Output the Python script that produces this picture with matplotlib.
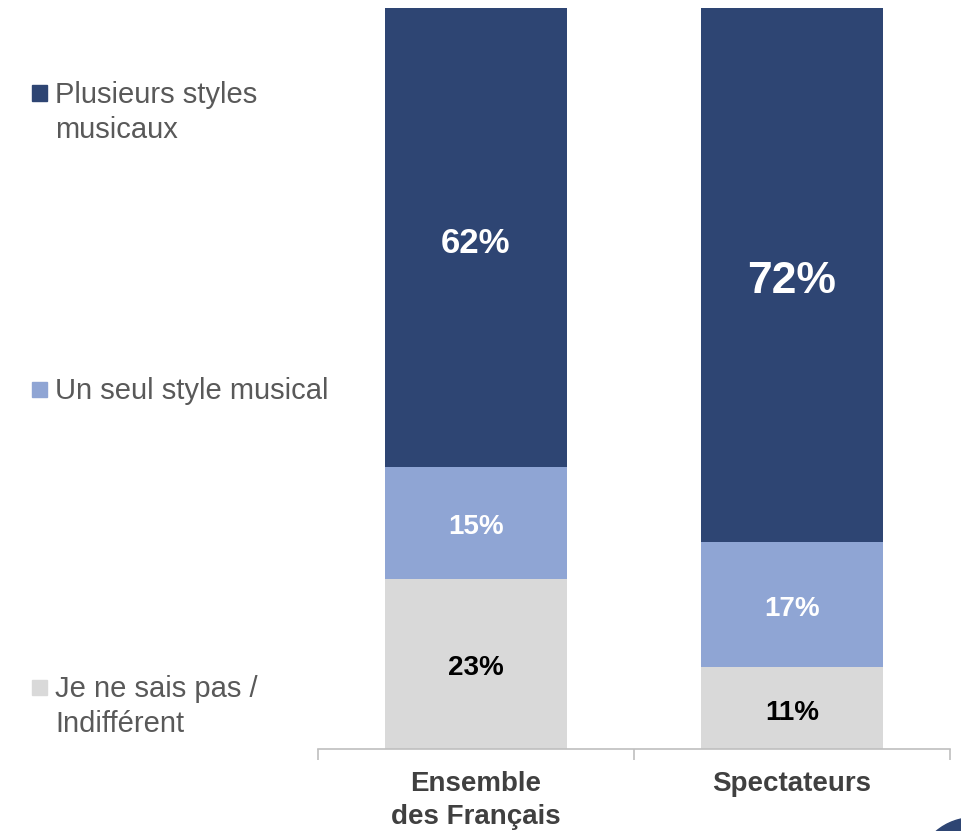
import matplotlib.pyplot as plt
from matplotlib.patches import Rectangle, Circle

plt.rcParams['font.family'] = ['Liberation Sans', 'DejaVu Sans']

# données
categories = ['Ensemble\ndes Français', 'Spectateurs']
series = ['Je ne sais pas /\nIndifférent', 'Un seul style musical',
          'Plusieurs styles\nmusicaux']
values = {
    'Je ne sais pas /\nIndifférent': [23, 11],
    'Un seul style musical': [15, 17],
    'Plusieurs styles\nmusicaux': [62, 72],
}
colors = ['#D9D9D9', '#8FA5D4', '#2E4573']
label_colors = ['black', 'white', 'white']
label_sizes = [[20, 20], [20, 20], [25, 32]]

W, H = 961, 831
fig = plt.figure(figsize=(W / 100, H / 100), dpi=100)
ax = fig.add_axes([318 / W, 82 / H, (950 - 318) / W, (823 - 82) / H])

x = range(len(categories))
bottom = [0, 0]
for i, name in enumerate(series):
    vals = values[name]
    ax.bar(x, vals, width=0.576, bottom=bottom, color=colors[i])
    for j, v in enumerate(vals):
        fs = label_sizes[i][j]
        # léger décalage vers le bas pour centrer les chiffres
        ax.annotate(f"{v}%", (j, bottom[j] + v / 2),
                    xytext=(0, -0.16 * fs), textcoords='offset points',
                    ha='center', va='center', color=label_colors[i],
                    fontsize=fs, fontweight='bold')
    bottom = [b + v for b, v in zip(bottom, vals)]

ax.set_xlim(-0.5, 1.5)
ax.set_ylim(0, 100)
ax.set_yticks([])
for s in ['top', 'left', 'right']:
    ax.spines[s].set_visible(False)
ax.spines['bottom'].set_color('#BFBFBF')
ax.spines['bottom'].set_linewidth(1.2)
ax.set_xticks([-0.5, 0.5, 1.5])
ax.set_xticklabels([])
ax.tick_params(axis='x', which='major', length=8, width=1.2, color='#BFBFBF')
ax.set_xticks(list(x), categories, minor=True)
ax.tick_params(axis='x', which='minor', length=0, pad=16, labelsize=20,
               labelcolor='#404040')
for t in ax.get_xticklabels(minor=True):
    t.set_fontweight('bold')
    t.set_linespacing(1.32)

# légende à gauche
legend_y = [675, 377, 81]
marker_y = [687, 389, 93]
for i, name in enumerate(series):
    fig.patches.append(Rectangle((32 / W, 1 - (marker_y[i] + 7.5) / H),
                                 15 / W, 15 / H, color=colors[i],
                                 transform=fig.transFigure))
    fig.text(55 / W, 1 - legend_y[i] / H, name, ha='left', va='top',
             fontsize=21, color='#595959', linespacing=1.3)

# pastille en bas à droite
fig.patches.append(Circle((975 / W, 1 - 865 / H), 55 / W, color='#2E4573',
                          transform=fig.transFigure))

fig.savefig('out.png', dpi=100)
